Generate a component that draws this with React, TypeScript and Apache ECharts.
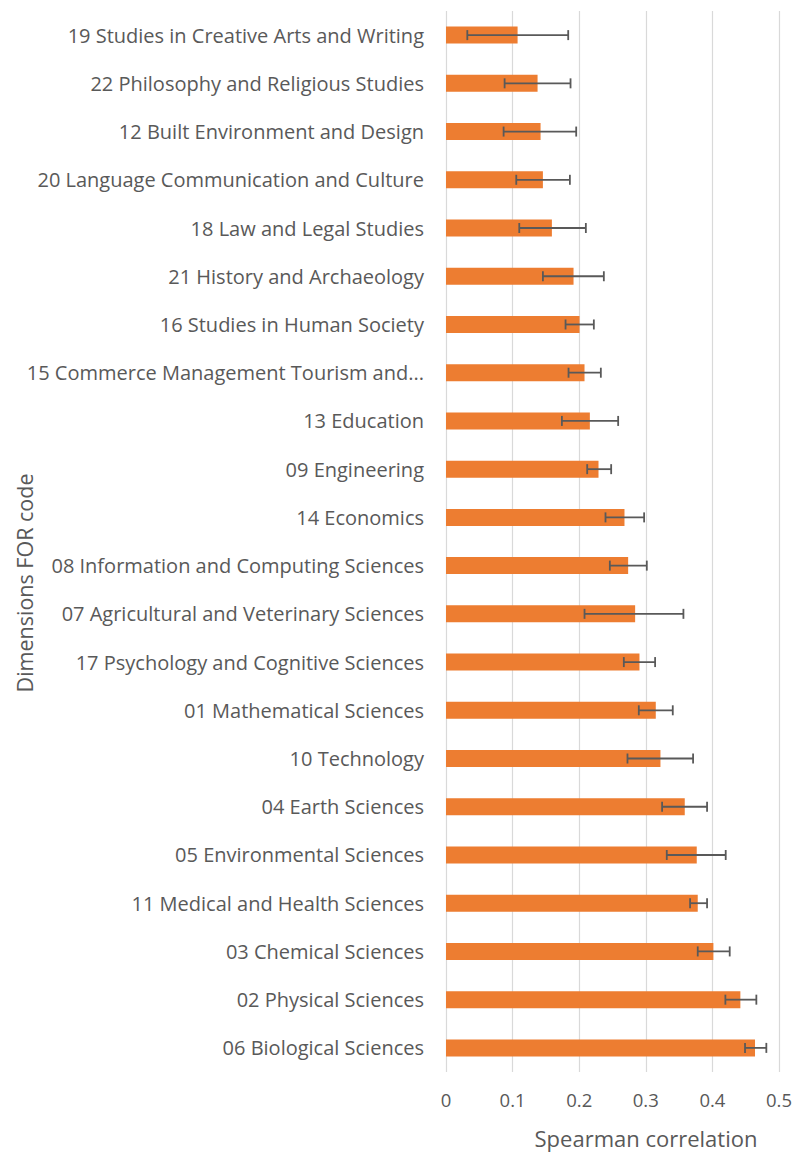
import React, { useEffect, useRef } from "react";
import * as echarts from "echarts";

const categories = [
  "19 Studies in Creative Arts and Writing",
  "22 Philosophy and Religious Studies",
  "12 Built Environment and Design",
  "20 Language Communication and Culture",
  "18 Law and Legal Studies",
  "21 History and Archaeology",
  "16 Studies in Human Society",
  "15 Commerce Management Tourism and...",
  "13 Education",
  "09 Engineering",
  "14 Economics",
  "08 Information and Computing Sciences",
  "07 Agricultural and Veterinary Sciences",
  "17 Psychology and Cognitive Sciences",
  "01 Mathematical Sciences",
  "10 Technology",
  "04 Earth Sciences",
  "05 Environmental Sciences",
  "11 Medical and Health Sciences",
  "03 Chemical Sciences",
  "02 Physical Sciences",
  "06 Biological Sciences",
];

const values = [
  0.1075, 0.1375, 0.142, 0.1455, 0.159, 0.1915, 0.2005, 0.208, 0.216, 0.229,
  0.268, 0.2735, 0.284, 0.2905, 0.315, 0.322, 0.3585, 0.3765, 0.378, 0.4015,
  0.442, 0.464,
];

const errLow = [
  0.032, 0.088, 0.0865, 0.1055, 0.11, 0.1455, 0.1795, 0.184, 0.174, 0.212,
  0.2395, 0.246, 0.208, 0.267, 0.2895, 0.2725, 0.3245, 0.3315, 0.3665, 0.378,
  0.4195, 0.449,
];

const errHigh = [
  0.1835, 0.187, 0.1955, 0.186, 0.21, 0.237, 0.222, 0.2325, 0.2585, 0.248,
  0.2975, 0.3015, 0.3565, 0.314, 0.3405, 0.371, 0.392, 0.42, 0.392, 0.426,
  0.466, 0.481,
];

const xTicks = [0, 0.1, 0.2, 0.3, 0.4, 0.5];

const FONT = "'Open Sans', sans-serif";
const TEXT = "#595959";

export default function App() {
  const ref = useRef<HTMLDivElement>(null);
  useEffect(() => {
    if (!ref.current) return;
    const chart = echarts.init(ref.current, null, { renderer: "svg" });
    const errData = categories.map((_, i) => [i, errLow[i], errHigh[i]]);
    chart.setOption({
      animation: false,
      backgroundColor: "#ffffff",
      grid: { left: 446, right: 16, top: 11, bottom: 81, containLabel: false },
      xAxis: {
        type: "value",
        min: xTicks[0],
        max: xTicks[xTicks.length - 1],
        interval: 0.1,
        axisLine: { show: false },
        axisTick: { show: false },
        splitLine: { show: true, lineStyle: { color: "#D9D9D9", width: 1.2 } },
        axisLabel: {
          color: TEXT,
          fontFamily: FONT,
          fontSize: 18.5,
          margin: 18,
          formatter: (v: number) => String(Math.round(v * 10) / 10),
        },
      },
      yAxis: {
        type: "category",
        data: categories,
        inverse: true,
        axisLine: { show: false },
        axisTick: { show: false },
        axisLabel: {
          color: TEXT,
          fontFamily: FONT,
          fontSize: 20,
          margin: 22,
        },
      },
      graphic: [
        {
          type: "text",
          x: 646,
          y: 1138,
          style: {
            text: "Spearman correlation",
            fill: TEXT,
            font: `22px ${FONT}`,
            textAlign: "center",
            textVerticalAlign: "middle",
          },
        },
        {
          type: "text",
          x: 24,
          y: 583,
          rotation: Math.PI / 2,
          style: {
            text: "Dimensions FOR code",
            fill: TEXT,
            font: `21.5px ${FONT}`,
            textAlign: "center",
            textVerticalAlign: "middle",
          },
        },
      ],
      series: [
        {
          type: "bar",
          data: values,
          barWidth: 17,
          itemStyle: { color: "#ED7D31" },
          silent: true,
        },
        {
          type: "custom",
          data: errData,
          silent: true,
          z: 10,
          renderItem: (params: any, api: any) => {
            const idx = api.value(0);
            const lo = api.coord([api.value(1), idx]);
            const hi = api.coord([api.value(2), idx]);
            const cap = 5;
            const style = { stroke: "#595959", lineWidth: 1.8 };
            return {
              type: "group",
              children: [
                { type: "line", shape: { x1: lo[0], y1: lo[1], x2: hi[0], y2: hi[1] }, style },
                { type: "line", shape: { x1: lo[0], y1: lo[1] - cap, x2: lo[0], y2: lo[1] + cap }, style },
                { type: "line", shape: { x1: hi[0], y1: hi[1] - cap, x2: hi[0], y2: hi[1] + cap }, style },
              ],
            };
          },
        },
      ],
    });
    return () => chart.dispose();
  }, []);
  return (
    <div
      ref={ref}
      style={{ position: "absolute", left: 0, top: 0, width: 795, height: 1153 }}
    />
  );
}
